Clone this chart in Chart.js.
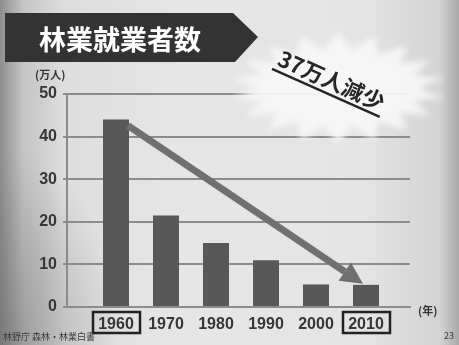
<!DOCTYPE html>
<html>
<head>
<meta charset="utf-8">
<script src="https://cdn.jsdelivr.net/npm/chart.js@4"></script>
<style>
  html, body { margin: 0; padding: 0; }
  body {
    width: 459px; height: 345px; overflow: hidden;
    background:
      radial-gradient(ellipse 120px 200px at 0% 100%, rgba(90,90,90,0.45), rgba(90,90,90,0) 100%),
      linear-gradient(to right, #8e8e8e 0%, #c4c4c4 5%, #dedede 14%, #e6e6e6 40%, #e4e4e4 80%, #d2d2d2 96%, #a8a8a8 100%);
  }
  canvas { display: block; }
</style>
</head>
<body>
<canvas id="chart" width="459" height="345"></canvas>
<script>
const years = [1960, 1970, 1980, 1990, 2000, 2010];
const workers = [44, 21.5, 15, 11, 5.3, 5.2];
const boxedYears = [1960, 2010];
const titleText = '林業就業者数';
const calloutText = '37万人減少';

const tickFont = { family: '"Liberation Sans", Arial, sans-serif', size: 16, weight: 'bold' };
const gridGray = '#8c8c8c';

// background starburst behind the callout text
const starburst = {
  id: 'starburst',
  beforeDatasetsDraw(chart) {
    const ctx = chart.ctx;
    const cx = 338, cy = 88;
    const n = 18;
    ctx.save();
    ctx.filter = 'blur(3px)';
    ctx.beginPath();
    for (let i = 0; i < n * 2; i++) {
      const a = (Math.PI * i) / n - Math.PI / 2;
      const outer = i % 2 === 0;
      const rx = outer ? 108 : 80;
      const ry = outer ? 56 : 38;
      const x = cx + Math.cos(a) * rx;
      const y = cy + Math.sin(a) * ry;
      if (i === 0) ctx.moveTo(x, y); else ctx.lineTo(x, y);
    }
    ctx.closePath();
    ctx.fillStyle = 'rgba(247,247,247,0.95)';
    ctx.fill();
    ctx.restore();

    ctx.save();
    ctx.translate(328, 88);
    ctx.rotate(24 * Math.PI / 180);
    ctx.font = 'bold 22px "Noto Sans CJK JP", sans-serif';
    ctx.fillStyle = '#262626';
    ctx.textAlign = 'center';
    ctx.textBaseline = 'alphabetic';
    ctx.fillText(calloutText, 0, 0);
    const w = ctx.measureText(calloutText).width;
    ctx.fillRect(-w / 2 - 2, 4, w + 4, 2.5);
    ctx.restore();
  }
};

// decreasing trend arrow from first bar to last bar
const trendArrow = {
  id: 'trendArrow',
  afterDatasetsDraw(chart) {
    const ctx = chart.ctx;
    const bars = chart.getDatasetMeta(0).data;
    const a = bars[0], b = bars[bars.length - 1];
    const x0 = a.x + a.width / 2 - 1, y0 = a.y + 6;
    const x1 = b.x - 3, y1 = b.y - 1;
    const ang = Math.atan2(y1 - y0, x1 - x0);
    const headLen = 22, headHalf = 11;
    const bx = x1 - Math.cos(ang) * headLen, by = y1 - Math.sin(ang) * headLen;
    ctx.save();
    ctx.strokeStyle = '#707070';
    ctx.fillStyle = '#707070';
    ctx.lineWidth = 7;
    ctx.beginPath();
    ctx.moveTo(x0, y0);
    ctx.lineTo(bx, by);
    ctx.stroke();
    ctx.beginPath();
    ctx.moveTo(x1, y1);
    ctx.lineTo(bx + Math.sin(ang) * headHalf, by - Math.cos(ang) * headHalf);
    ctx.lineTo(bx - Math.sin(ang) * headHalf, by + Math.cos(ang) * headHalf);
    ctx.closePath();
    ctx.fill();
    ctx.restore();
  }
};

// title banner, unit labels, boxed years, footer
const decorations = {
  id: 'decorations',
  afterDraw(chart) {
    const ctx = chart.ctx;
    const xs = chart.scales.x;
    const area = chart.chartArea;
    ctx.save();

    ctx.fillStyle = '#333333';
    ctx.beginPath();
    ctx.moveTo(5, 13);
    ctx.lineTo(233, 13);
    ctx.lineTo(258, 37);
    ctx.lineTo(235, 62);
    ctx.lineTo(5, 62);
    ctx.closePath();
    ctx.fill();
    ctx.fillStyle = '#ffffff';
    ctx.font = 'bold 27px "Noto Sans CJK JP", sans-serif';
    ctx.textBaseline = 'middle';
    ctx.textAlign = 'left';
    ctx.fillText(titleText, 39, 40);

    ctx.fillStyle = '#333333';
    ctx.font = 'bold 11px "Noto Sans CJK JP", sans-serif';
    ctx.fillText('(万人)', 35, 75);
    ctx.fillText('(年)', area.right + 8, area.bottom + 4);

    ctx.strokeStyle = '#222222';
    ctx.lineWidth = 2.5;
    boxedYears.forEach(yr => {
      const x = xs.getPixelForValue(yr);
      ctx.strokeRect(x - 23, area.bottom + 5, 47, 21);
    });

    ctx.font = '9px "Noto Sans CJK JP", sans-serif';
    ctx.fillStyle = '#3a3a3a';
    ctx.fillText('林野庁 森林・林業白書', 3, 337);
    ctx.fillText('23', 444, 336);
    ctx.restore();
  }
};

new Chart(document.getElementById('chart'), {
  type: 'bar',
  data: {
    datasets: [{
      data: years.map((yr, i) => ({ x: yr, y: workers[i] })),
      backgroundColor: '#585858',
      barPercentage: 0.52,
      categoryPercentage: 1
    }]
  },
  options: {
    responsive: false,
    animation: false,
    layout: { padding: { top: 94, right: 49, left: 0, bottom: 0 } },
    plugins: { legend: { display: false }, tooltip: { enabled: false } },
    scales: {
      x: {
        type: 'linear',
        offset: false,
        min: 1950.2,
        max: 2018.8,
        afterBuildTicks: axis => { axis.ticks = years.map(v => ({ value: v })); },
        afterFit: axis => { axis.height = 38; },
        grid: { display: false, drawTicks: false, offset: false },
        border: { color: gridGray, width: 2 },
        ticks: {
          autoSkip: false,
          maxRotation: 0,
          padding: 8,
          color: '#363636',
          font: tickFont,
          callback: v => String(v)
        }
      },
      y: {
        min: 0,
        max: 50,
        afterFit: axis => { axis.width = 67; },
        grid: { color: gridGray, lineWidth: 2, tickLength: 4 },
        border: { color: gridGray, width: 2 },
        ticks: { stepSize: 10, padding: 6, color: '#363636', font: tickFont }
      }
    }
  },
  plugins: [starburst, trendArrow, decorations]
});
</script>
</body>
</html>
